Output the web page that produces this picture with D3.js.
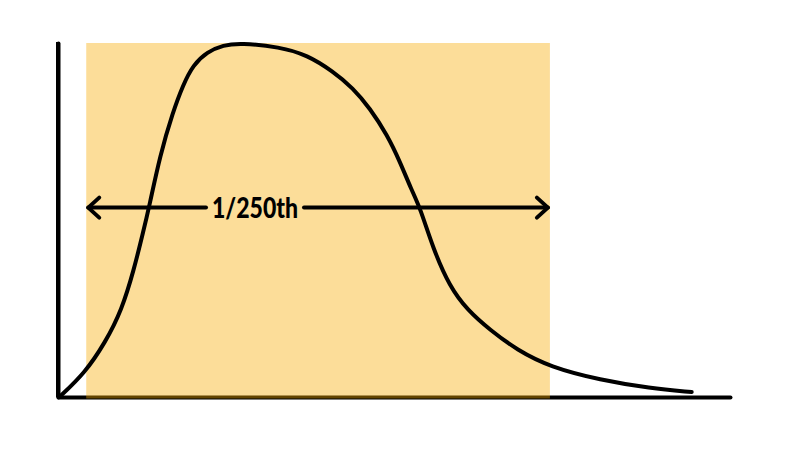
<!DOCTYPE html>
<html><head><meta charset="utf-8">
<script src="https://cdn.jsdelivr.net/npm/d3@7"></script>
<style>body{margin:0;background:#fff}</style>
</head><body>
<svg id="c" width="800" height="450"></svg>
<script>
// Data
const curveX = [0.2, 4.0, 7.0, 9.5, 11.3, 12.6, 13.6, 15.2, 17.1, 18.6, 20.1, 22.2, 24.6, 27.1, 33.0, 37.1, 40.9, 43.9, 46.4, 49.0, 50.9, 52.6, 53.9, 55.8, 58.3, 60.9, 64.3, 68.3, 73.2, 80.7, 88.1, 94.3];
const curveY = [0, 6.8, 15.3, 24.6, 36.0, 46.0, 54.0, 68.4, 80.5, 88.1, 93.8, 97.5, 99.4, 100, 98.9, 96.6, 92.0, 87.3, 81.6, 74.0, 66.4, 58.5, 53.4, 42.0, 31.1, 24.6, 18.9, 13.3, 8.5, 4.8, 2.5, 1.4];
const windowX = [4.2, 73.2];
const arrowY = [53.5];
const labels = ["1/250th"];

const svg = d3.select("#c");
const x = d3.scaleLinear().domain([0, 100]).range([58, 730]);
const y = d3.scaleLinear().domain([0, 100]).range([397, 43]);

// axes (no ticks)
svg.append("g").attr("transform", `translate(0,${y(0)})`)
  .call(d3.axisBottom(x).tickValues([]).tickSizeOuter(0))
  .call(g => g.select(".domain").attr("stroke", "#000").attr("stroke-width", 4).attr("stroke-linecap", "round"));
svg.append("g").attr("transform", `translate(${x(0)},0)`)
  .call(d3.axisLeft(y).tickValues([]).tickSizeOuter(0))
  .call(g => g.select(".domain").attr("stroke", "#000").attr("stroke-width", 4).attr("stroke-linecap", "round"));
svg.append("line").attr("x1", x(0)).attr("x2", x(0)).attr("y1", y(0)).attr("y2", y(100) - 1)
  .attr("stroke", "#000").attr("stroke-width", 4);

// window rectangle (translucent)
svg.append("rect")
  .attr("x", x(windowX[0])).attr("y", y(100))
  .attr("width", x(windowX[1]) - x(windowX[0]))
  .attr("height", y(0) - y(100) + 1.5)
  .attr("fill", "#f8ab00").attr("fill-opacity", 0.4);

// curve
const pts = curveX.map((d, i) => [d, curveY[i]]);
svg.append("path").datum(pts)
  .attr("d", d3.line().x(d => x(d[0])).y(d => y(d[1])).curve(d3.curveBasis))
  .attr("fill", "none").attr("stroke", "#000").attr("stroke-width", 4).attr("stroke-linecap", "round");

// arrow annotation
const ay = y(arrowY[0]);
const x0 = x(windowX[0]) + 2, x1 = x(windowX[1]) - 2;
const tx = 255;
const txt = svg.append("text").attr("x", tx).attr("y", ay + 10)
  .attr("text-anchor", "middle")
  .attr("font-family", "Lato, 'DejaVu Sans', sans-serif").attr("font-weight", 900)
  .attr("font-size", 28).attr("textLength", 86).attr("lengthAdjust", "spacingAndGlyphs")
  .attr("fill", "#000").text(labels[0]);
const bb = txt.node().getBBox();
const g = svg.append("g").attr("stroke", "#000").attr("stroke-width", 4).attr("fill", "none")
  .attr("stroke-linecap", "round").attr("stroke-linejoin", "round");
g.append("line").attr("x1", x0).attr("x2", bb.x - 6).attr("y1", ay).attr("y2", ay);
g.append("line").attr("x1", bb.x + bb.width + 6).attr("x2", x1).attr("y1", ay).attr("y2", ay);
g.append("path").attr("d", `M${x0 + 11},${ay - 10}L${x0},${ay}L${x0 + 11},${ay + 10}`);
g.append("path").attr("d", `M${x1 - 11},${ay - 10}L${x1},${ay}L${x1 - 11},${ay + 10}`);
</script>
</body></html>
